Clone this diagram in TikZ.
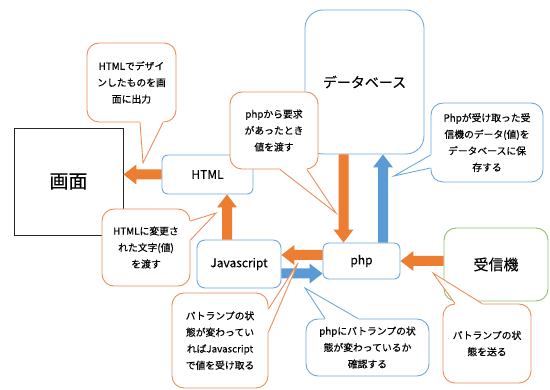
\documentclass[tikz,border=0pt]{standalone}
\usepackage{fontspec}
\setmainfont{Noto Sans CJK JP}[FakeBold=0.3]
\usetikzlibrary{calc}
\definecolor{oarrow}{HTML}{ED7D31}
\definecolor{barrow}{HTML}{5B9BD5}
\definecolor{oline}{HTML}{F08C58}
\definecolor{bline}{HTML}{6FA8DC}
\definecolor{gline}{HTML}{8CC06A}
\newcommand\blockarrow[3]{%
  \path ($(#3)!13pt!(#2)$) coordinate (hb);
  \fill[#1] ($(#2)!5pt!90:(#3)$) -- ($(hb)!5pt!90:(#3)$) -- ($(hb)!10pt!90:(#3)$) -- (#3)
    -- ($(hb)!10pt!-90:(#3)$) -- ($(hb)!5pt!-90:(#3)$) -- ($(#2)!5pt!-90:(#3)$) -- cycle;}
\newcommand\pointer[5]{%
  \fill[white] ([shift={#5}]#2) -- (#2) -- (#4) -- (#3) -- ([shift={#5}]#3) -- cycle;
  \draw[#1, line width=0.9pt, line join=miter] (#2) -- (#4) -- (#3);}
\tikzset{
  box/.style={draw=bline, line width=0.9pt, rounded corners=6pt, inner sep=0pt, align=center, font=\fontsize{12}{14}\selectfont},
  bubble/.style={fill=white, line width=0.9pt, rounded corners=12pt, inner sep=0pt, align=center, font=\fontsize{9.8}{16.5}\selectfont},
}
\begin{document}
\begin{tikzpicture}[x=1pt,y=-1pt]
\useasboundingbox (0,0) rectangle (550,390);
% main boxes
\node[draw=black!85, line width=0.9pt, minimum width=109pt, minimum height=107pt, inner sep=0pt, font=\fontsize{19}{22}\selectfont] (gamen) at (68.5,181.5) {画面};
\node[box, minimum width=91pt, minimum height=39pt] (html) at (207.5,174.5) {HTML};
\node[box, rounded corners=18pt, minimum width=119pt, minimum height=144pt, font=\fontsize{14}{16}\selectfont] (db) at (364.5,82) {データベース};
\node[box, minimum width=77pt, minimum height=36pt] (php) at (361.5,261) {php};
\node[box, rounded corners=8pt, minimum width=84pt, minimum height=48pt] (js) at (239,264) {Javascript};
\node[box, draw=gline, rounded corners=12pt, minimum width=104pt, minimum height=73pt, font=\fontsize{15}{17}\selectfont] (rx) at (496,264.5) {受信機};
% block arrows
\coordinate (a1e) at (gamen.east |- html.west);
\blockarrow{oarrow}{html.west}{a1e}
\coordinate (a2e) at ([xshift=-18pt]php.north);
\coordinate (a2s) at (db.south -| a2e);
\blockarrow{oarrow}{a2s}{a2e}
\coordinate (a3s) at ([xshift=21.5pt]php.north);
\coordinate (a3e) at (db.south -| a3s);
\blockarrow{barrow}{a3s}{a3e}
\coordinate (a4s) at (rx.west |- php.east);
\blockarrow{oarrow}{a4s}{php.east}
\coordinate (a5s) at ([yshift=6pt]php.west);
\coordinate (a5e) at (js.east |- a5s);
\blockarrow{oarrow}{a5s}{a5e}
\coordinate (a6e) at ([yshift=-12.5pt]php.west);
\coordinate (a6s) at (js.east |- a6e);
\blockarrow{barrow}{a6s}{a6e}
\coordinate (a7s) at ([xshift=-12pt]js.north);
\coordinate (a7e) at (html.south -| a7s);
\blockarrow{oarrow}{a7s}{a7e}
% callouts
\node[bubble, draw=oline, minimum width=89pt, minimum height=79pt] (c1) at (131.5,82.5) {HTMLでデザイ\\ンしたものを画\\面に出力};
\coordinate (c1a) at ([xshift=8.5pt]c1.south);
\coordinate (c1b) at ([xshift=31.5pt]c1.south);
\coordinate (c1t) at (143,163);
\pointer{oline}{c1a}{c1b}{c1t}{(0pt,1.5pt)}

\node[bubble, draw=oline, minimum width=88pt, minimum height=77pt] (c2) at (274,130.5) {phpから要求\\があったとき\\値を渡す};
\coordinate (c2a) at ([xshift=6pt]c2.south);
\coordinate (c2b) at ([xshift=33pt]c2.south);
\coordinate (c2t) at (336,213);
\pointer{oline}{c2a}{c2b}{c2t}{(0pt,1.5pt)}

\node[bubble, draw=bline, minimum width=112pt, minimum height=79pt] (c3) at (487,142.5) {Phpが受け取った受\\信機のデータ(値)を\\データベースに保\\存する};
\coordinate (c3a) at ([yshift=-12.5pt]c3.west);
\coordinate (c3b) at ([yshift=-25.5pt]c3.west);
\coordinate (c3t) at (394,176);
\pointer{bline}{c3a}{c3b}{c3t}{(1.5pt,0pt)}

\node[bubble, draw=oline, minimum width=88pt, minimum height=77pt] (c4) at (146,247.5) {HTMLに変更さ\\れた文字(値)\\を渡す};
\coordinate (c4a) at ([yshift=26.5pt]c4.east);
\coordinate (c4b) at ([yshift=7.5pt]c4.east);
\coordinate (c4t) at (216,213);
\pointer{oline}{c4a}{c4b}{c4t}{(-1.5pt,0pt)}

\node[bubble, draw=oline, minimum width=96pt, minimum height=95pt] (c5) at (220,340.5) {パトランプの状\\態が変わってい\\ればJavascript\\で値を受け取る};
\coordinate (c5a) at ([yshift=31.5pt]c5.east);
\coordinate (c5b) at ([yshift=8.5pt]c5.east);
\coordinate (c5t) at (298,263);
\pointer{oline}{c5a}{c5b}{c5t}{(-1.5pt,0pt)}

\node[bubble, draw=bline, minimum width=123pt, minimum height=57pt] (c6) at (367.5,347.5) {phpにパトランプの状\\態が変わっているか\\確認する};
\coordinate (c6a) at ([xshift=-42.5pt]c6.north);
\coordinate (c6b) at ([xshift=-9.5pt]c6.north);
\coordinate (c6t) at (305,288);
\pointer{bline}{c6a}{c6b}{c6t}{(0pt,-1.5pt)}

\node[bubble, draw=oline, minimum width=88pt, minimum height=79pt] (c7) at (487,343.5) {パトランプの状\\態を送る};
\coordinate (c7a) at ([xshift=-32pt]c7.north);
\coordinate (c7b) at ([xshift=-5pt]c7.north);
\coordinate (c7t) at (433,273);
\pointer{oline}{c7a}{c7b}{c7t}{(0pt,-1.5pt)}
\end{tikzpicture}
\end{document}
